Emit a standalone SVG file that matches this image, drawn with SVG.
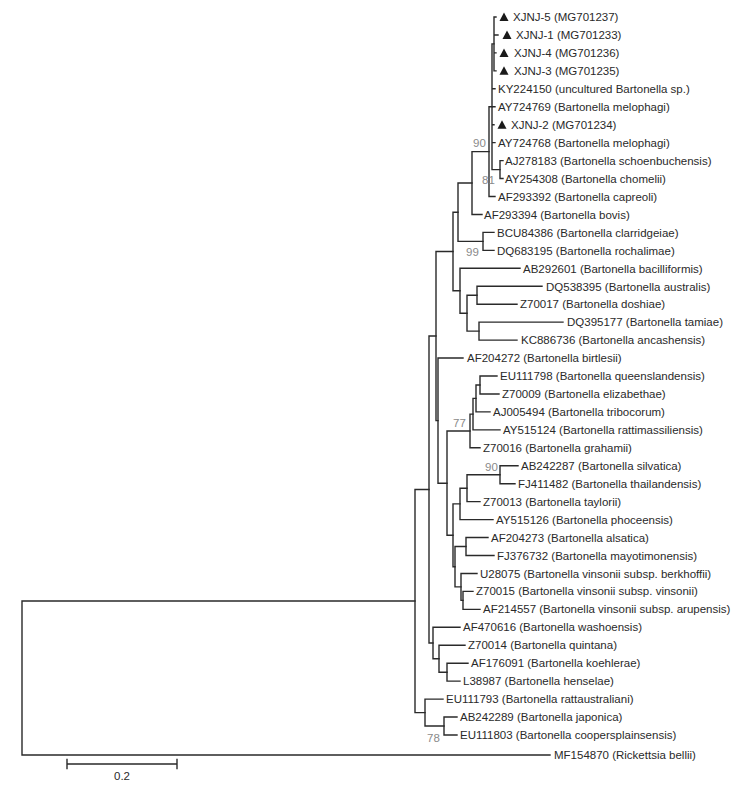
<svg xmlns="http://www.w3.org/2000/svg" xmlns:xlink="http://www.w3.org/1999/xlink" width="752" height="787" viewBox="0 0 752 787">
<style>
.br{stroke:#2a2a2a;stroke-width:1.4;fill:none;stroke-linecap:square}
.lb{font-family:"Liberation Sans",Arial,sans-serif;font-size:11.5px;fill:#2a2a2a}
.bs{font-family:"Liberation Sans",Arial,sans-serif;font-size:11.5px;fill:#8a8a8a}
.tri{fill:#1a1a1a}
</style>
<defs>
<path id="tri" class="tri" d="M-4.5 4 L4.5 4 L0 -4.5 Z"/>
</defs>
<rect width="752" height="787" fill="#ffffff"/>
<g id="connectors" class="br">
<path d="M22 601 V755 M22 601 H415 M22 755 H550"/>
<path d="M415 489.5 V712.6 M415 489.5 H429 M415 712.6 H425"/>
<path d="M425 699.1 V726 M425 699.1 H443 M425 726 H444"/>
<path d="M444 717.05 V735 M444 717.05 H457 M444 735 H457"/>
<path d="M429 336 V643 M429 336 H436 M429 643 H433"/>
<path d="M433 627.3 V658.7 M433 627.3 H460 M433 658.7 H439"/>
<path d="M439 645.25 V672.2 M439 645.25 H465 M439 672.2 H447"/>
<path d="M447 663.2 V681.15 M447 663.2 H468 M447 681.15 H460"/>
<path d="M436 251.5 V420.6 M436 251.5 H453 M436 420.6 H438"/>
<path d="M438 358.05 V483.2 M438 358.05 H463 M438 483.2 H447"/>
<path d="M447 431 V535.3 M447 431 H470 M447 535.3 H453"/>
<path d="M470 414.1 V447.8 M470 414.1 H473 M470 447.8 H480"/>
<path d="M473 398.4 V429.85 M473 398.4 H476 M473 429.85 H500"/>
<path d="M476 385 V411.9 M476 385 H480 M476 411.9 H490"/>
<path d="M480 376 V393.95 M480 376 H497 M480 393.95 H499"/>
<path d="M453 503.9 V566.7 M453 503.9 H460 M453 566.7 H455"/>
<path d="M460 488.2 V519.6 M460 488.2 H467 M460 519.6 H493"/>
<path d="M467 474.7 V501.65 M467 474.7 H500 M467 501.65 H480"/>
<path d="M500 465.75 V483.7 M500 465.75 H518 M500 483.7 H515"/>
<path d="M455 546.5 V586.9 M455 546.5 H466 M455 586.9 H461"/>
<path d="M466 537.55 V555.5 M466 537.55 H488 M466 555.5 H494"/>
<path d="M461 573.45 V600.4 M461 573.45 H477 M461 600.4 H463"/>
<path d="M463 591.4 V609.35 M463 591.4 H473 M463 609.35 H480"/>
<path d="M453 212.2 V290.75 M453 212.2 H458 M453 290.75 H460"/>
<path d="M460 268.3 V313.2 M460 268.3 H520 M460 313.2 H467"/>
<path d="M467 295.2 V331.1 M467 295.2 H477 M467 331.1 H479"/>
<path d="M477 286.25 V304.2 M477 286.25 H542 M477 304.2 H517"/>
<path d="M479 322.15 V340.1 M479 322.15 H563 M479 340.1 H517"/>
<path d="M458 183 V241.4 M458 183 H472 M458 241.4 H483"/>
<path d="M483 232.4 V250.35 M483 232.4 H494 M483 250.35 H494"/>
<path d="M472 151.6 V214.45 M472 151.6 H489 M472 214.45 H482"/>
<path d="M489 106.75 V196.5 M489 106.75 H492 M489 196.5 H495"/>
<path d="M492 43.9 V169.6 M492 43.9 H494 M492 88.8 H495 M492 106.75 H495 M492 124.7 H494 M492 142.65 H495 M492 169.6 H500"/>
<path d="M500 160.6 V178.55 M500 160.6 H503 M500 178.55 H503"/>
<path d="M494 17 V70.85 M494 17 H496 M494 34.95 H498 M494 52.9 H496 M494 70.85 H496"/>
</g>
<g id="bootstrap">
<text class="bs" x="473" y="147">90</text>
<text class="bs" x="482" y="184">81</text>
<text class="bs" x="466" y="256">99</text>
<text class="bs" x="453" y="427">77</text>
<text class="bs" x="485" y="471">90</text>
<text class="bs" x="427" y="742">78</text>
</g>
<g id="leaf-XJNJ-5"><use xlink:href="#tri" x="504" y="17"/><text class="lb" x="513" y="21">XJNJ-5 (MG701237)</text></g>
<g id="leaf-XJNJ-1"><use xlink:href="#tri" x="507" y="34.95"/><text class="lb" x="516" y="39">XJNJ-1 (MG701233)</text></g>
<g id="leaf-XJNJ-4"><use xlink:href="#tri" x="504" y="52.9"/><text class="lb" x="514" y="57">XJNJ-4 (MG701236)</text></g>
<g id="leaf-XJNJ-3"><use xlink:href="#tri" x="504" y="70.85"/><text class="lb" x="514" y="75">XJNJ-3 (MG701235)</text></g>
<g id="leaf-KY224150"><text class="lb" x="498" y="93">KY224150 (uncultured Bartonella sp.)</text></g>
<g id="leaf-AY724769"><text class="lb" x="498" y="111">AY724769 (Bartonella melophagi)</text></g>
<g id="leaf-XJNJ-2"><use xlink:href="#tri" x="502" y="124.7"/><text class="lb" x="511" y="129">XJNJ-2 (MG701234)</text></g>
<g id="leaf-AY724768"><text class="lb" x="498" y="147">AY724768 (Bartonella melophagi)</text></g>
<g id="leaf-AJ278183"><text class="lb" x="505" y="165">AJ278183 (Bartonella schoenbuchensis)</text></g>
<g id="leaf-AY254308"><text class="lb" x="505" y="183">AY254308 (Bartonella chomelii)</text></g>
<g id="leaf-AF293392"><text class="lb" x="498" y="201">AF293392 (Bartonella capreoli)</text></g>
<g id="leaf-AF293394"><text class="lb" x="484" y="219">AF293394 (Bartonella bovis)</text></g>
<g id="leaf-BCU84386"><text class="lb" x="497" y="237">BCU84386 (Bartonella clarridgeiae)</text></g>
<g id="leaf-DQ683195"><text class="lb" x="497" y="255">DQ683195 (Bartonella rochalimae)</text></g>
<g id="leaf-AB292601"><text class="lb" x="523" y="273">AB292601 (Bartonella bacilliformis)</text></g>
<g id="leaf-DQ538395"><text class="lb" x="546" y="291">DQ538395 (Bartonella australis)</text></g>
<g id="leaf-Z70017"><text class="lb" x="520" y="308">Z70017 (Bartonella doshiae)</text></g>
<g id="leaf-DQ395177"><text class="lb" x="567" y="326">DQ395177 (Bartonella tamiae)</text></g>
<g id="leaf-KC886736"><text class="lb" x="521" y="344">KC886736 (Bartonella ancashensis)</text></g>
<g id="leaf-AF204272"><text class="lb" x="467" y="362">AF204272 (Bartonella birtlesii)</text></g>
<g id="leaf-EU111798"><text class="lb" x="500" y="380">EU111798 (Bartonella queenslandensis)</text></g>
<g id="leaf-Z70009"><text class="lb" x="502" y="398">Z70009 (Bartonella elizabethae)</text></g>
<g id="leaf-AJ005494"><text class="lb" x="493" y="416">AJ005494 (Bartonella tribocorum)</text></g>
<g id="leaf-AY515124"><text class="lb" x="503" y="434">AY515124 (Bartonella rattimassiliensis)</text></g>
<g id="leaf-Z70016"><text class="lb" x="483" y="452">Z70016 (Bartonella grahamii)</text></g>
<g id="leaf-AB242287"><text class="lb" x="521" y="470">AB242287 (Bartonella silvatica)</text></g>
<g id="leaf-FJ411482"><text class="lb" x="518" y="488">FJ411482 (Bartonella thailandensis)</text></g>
<g id="leaf-Z70013"><text class="lb" x="483" y="506">Z70013 (Bartonella taylorii)</text></g>
<g id="leaf-AY515126"><text class="lb" x="496" y="524">AY515126 (Bartonella phoceensis)</text></g>
<g id="leaf-AF204273"><text class="lb" x="491" y="542">AF204273 (Bartonella alsatica)</text></g>
<g id="leaf-FJ376732"><text class="lb" x="497" y="560">FJ376732 (Bartonella mayotimonensis)</text></g>
<g id="leaf-U28075"><text class="lb" x="480" y="578">U28075 (Bartonella vinsonii subsp. berkhoffii)</text></g>
<g id="leaf-Z70015"><text class="lb" x="476" y="595">Z70015 (Bartonella vinsonii subsp. vinsonii)</text></g>
<g id="leaf-AF214557"><text class="lb" x="483" y="613">AF214557 (Bartonella vinsonii subsp. arupensis)</text></g>
<g id="leaf-AF470616"><text class="lb" x="463" y="631">AF470616 (Bartonella washoensis)</text></g>
<g id="leaf-Z70014"><text class="lb" x="468" y="649">Z70014 (Bartonella quintana)</text></g>
<g id="leaf-AF176091"><text class="lb" x="471" y="667">AF176091 (Bartonella koehlerae)</text></g>
<g id="leaf-L38987"><text class="lb" x="463" y="685">L38987 (Bartonella henselae)</text></g>
<g id="leaf-EU111793"><text class="lb" x="446" y="703">EU111793 (Bartonella rattaustraliani)</text></g>
<g id="leaf-AB242289"><text class="lb" x="460" y="721">AB242289 (Bartonella japonica)</text></g>
<g id="leaf-EU111803"><text class="lb" x="460" y="739">EU111803 (Bartonella coopersplainsensis)</text></g>
<g id="leaf-MF154870"><text class="lb" x="554" y="759">MF154870 (Rickettsia bellii)</text></g>
<g id="scalebar">
<path class="br" d="M67 764 H177 M67 759.5 V768.5 M177 759.5 V768.5"/>
<text class="lb" x="122" y="780" text-anchor="middle">0.2</text>
</g>
</svg>
